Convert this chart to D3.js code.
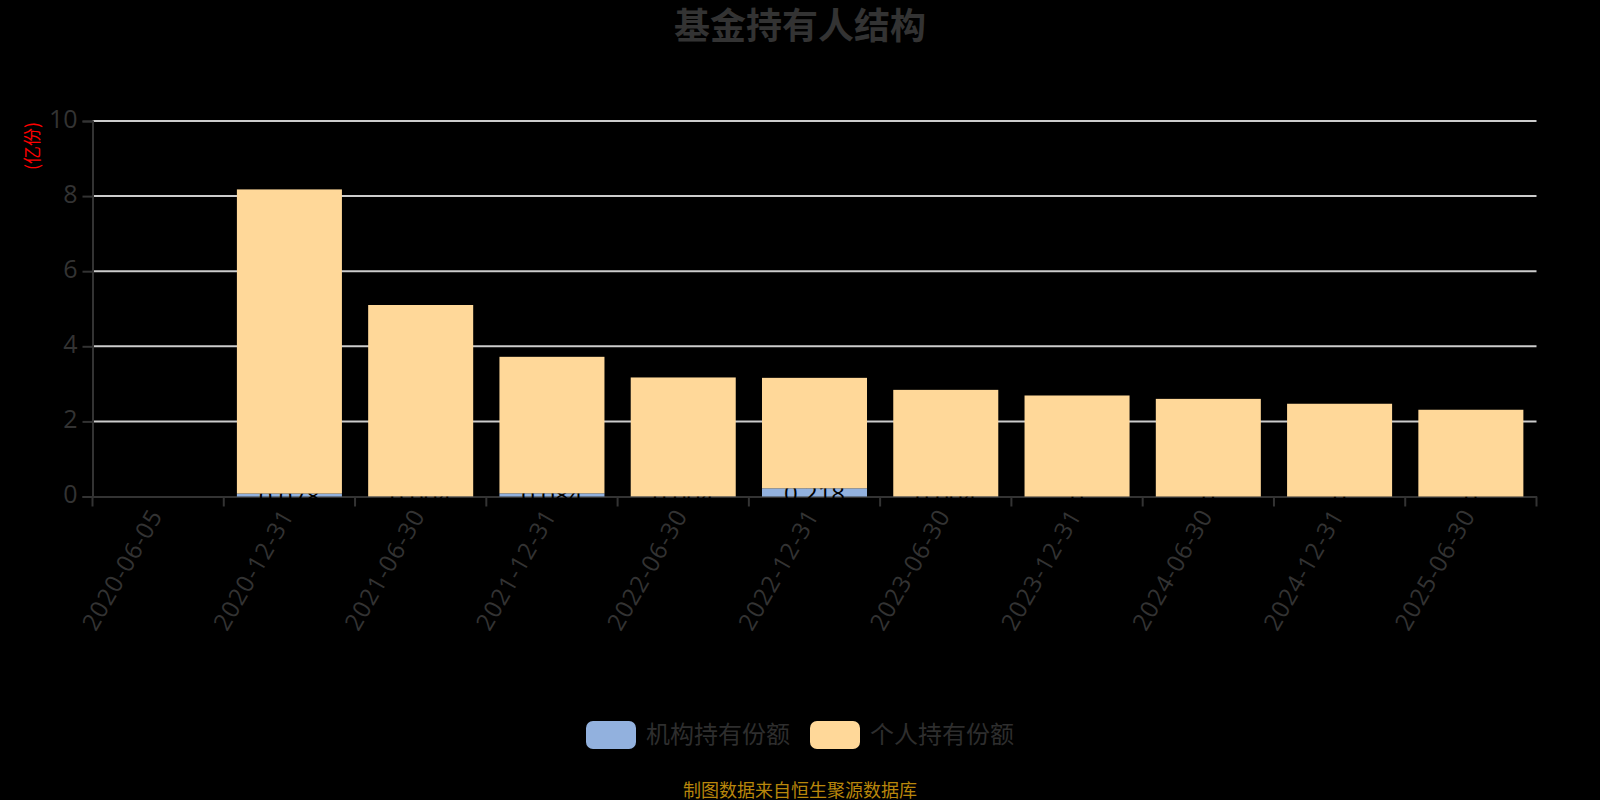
<!DOCTYPE html>
<html>
  <head>
    <meta charset="utf-8">
    <title>基金持有人结构</title>
    <script src="https://cdn.jsdelivr.net/npm/d3@7/dist/d3.min.js"></script>
    <style>
      html, body { margin: 0; background: #000; overflow: hidden; }
      svg { display: block; }
      text { font-family: "Open Sans", "Noto Sans CJK SC", sans-serif; }
      .cjk { font-family: "Noto Sans CJK SC", sans-serif; }
    </style>
  </head>
  <body>
    <svg id="chart" width="1600" height="800"></svg>
    <script>
      const dates = ["2020-06-05", "2020-12-31", "2021-06-30", "2021-12-31", "2022-06-30", "2022-12-31",
        "2023-06-30", "2023-12-31", "2024-06-30", "2024-12-31", "2025-06-30"];
      const institution = [null, 0.078, 0.004, 0.084, 0.004, 0.218, 0.004, 0, 0, 0, 0];
      const personal = [null, 8.10, 5.096, 3.636, 3.166, 2.942, 2.836, 2.69, 2.60, 2.47, 2.31];
      const yTicks = [0, 2, 4, 6, 8, 10];
      const seriesNames = ["机构持有份额", "个人持有份额"];
      const seriesColors = ["#92b1de", "#ffd899"];

      const svg = d3.select("#chart");
      const plotLeft = 92.5, plotRight = 1536.5, plotTop = 121, plotBottom = 496.5;

      const x = d3.scaleBand().domain(dates).range([plotLeft, plotRight]).paddingInner(0.2).paddingOuter(0.1);
      const y = d3.scaleLinear().domain([0, 10]).range([plotBottom, plotTop]);

      // title and the little unit label
      svg.append("text").attr("class", "cjk")
        .attr("x", 800).attr("y", 39)
        .attr("text-anchor", "middle")
        .attr("font-size", 36).attr("font-weight", 700).attr("fill", "#333")
        .text("基金持有人结构");

      svg.append("text").attr("class", "cjk")
        .attr("transform", "translate(31,146) rotate(-90)")
        .attr("text-anchor", "middle").attr("dominant-baseline", "central")
        .attr("font-size", 18).attr("fill", "#f00")
        .text("(亿份)");

      // grid lines
      svg.append("g").selectAll("line")
        .data(yTicks.filter(d => d > 0))
        .join("line")
        .attr("x1", plotLeft).attr("x2", plotRight)
        .attr("y1", d => y(d)).attr("y2", d => y(d))
        .attr("stroke", "#ccc").attr("stroke-width", 2);

      // y axis
      const yAxis = svg.append("g")
        .attr("transform", `translate(${plotLeft},0)`)
        .call(d3.axisLeft(y).tickValues(yTicks).tickSize(10).tickPadding(5));
      yAxis.selectAll("line").attr("stroke", "#333").attr("stroke-width", 2);
      yAxis.select(".domain").attr("stroke", "#333").attr("stroke-width", 2);
      yAxis.selectAll("text").attr("font-size", 25).attr("fill", "#333")
        .attr("dy", "0.24em")
        .style("font-family", '"Open Sans", sans-serif');

      // x axis, labels sit mid band and ticks go on the band edges
      const xAxis = svg.append("g")
        .attr("transform", `translate(0,${plotBottom})`)
        .call(d3.axisBottom(x).tickSize(0).tickSizeOuter(0).tickFormat(""));
      xAxis.select(".domain").attr("stroke", "#333").attr("stroke-width", 2);

      xAxis.selectAll(".edge")
        .data(d3.range(dates.length + 1))
        .join("line")
        .attr("class", "edge")
        .attr("x1", i => plotLeft + i * x.step()).attr("x2", i => plotLeft + i * x.step())
        .attr("y1", 0).attr("y2", 10)
        .attr("stroke", "#333").attr("stroke-width", 2);

      svg.append("g").selectAll("text")
        .data(dates)
        .join("text")
        .attr("transform", d => `translate(${x(d) + x.bandwidth() / 2 - 3},${plotBottom + 14}) rotate(-60)`)
        .attr("text-anchor", "end").attr("dominant-baseline", "central")
        .attr("font-size", 24).attr("letter-spacing", 1).attr("fill", "#333")
        .text(d => d);

      // stacked bars, the labels go between the two series so the top one covers them
      const rows = dates.map((d, i) => ({ date: d, a: institution[i] || 0, b: personal[i] || 0 }));
      const stacked = d3.stack().keys(["a", "b"])(rows);

      svg.append("g").selectAll("rect")
        .data(stacked[0])
        .join("rect")
        .attr("x", d => x(d.data.date)).attr("width", x.bandwidth())
        .attr("y", d => y(d[1])).attr("height", d => y(d[0]) - y(d[1]))
        .attr("fill", seriesColors[0]);

      svg.append("g").selectAll("text")
        .data(institution.map((v, i) => ({ v, date: dates[i] })).filter(d => d.v !== null))
        .join("text")
        .attr("x", d => x(d.date) + x.bandwidth() / 2)
        .attr("y", d => y(d.v / 2))
        .attr("text-anchor", "middle").attr("dominant-baseline", "central")
        .attr("font-size", 24).attr("fill", "#000")
        .text(d => d.v);

      svg.append("g").selectAll("rect")
        .data(stacked[1])
        .join("rect")
        .attr("x", d => x(d.data.date)).attr("width", x.bandwidth())
        .attr("y", d => y(d[1])).attr("height", d => y(d[0]) - y(d[1]))
        .attr("fill", seriesColors[1]);

      // legend
      const legendX = d3.scaleOrdinal().domain(seriesNames).range([586, 810]);
      const legend = svg.append("g").selectAll("g")
        .data(seriesNames)
        .join("g")
        .attr("transform", d => `translate(${legendX(d)},721)`);
      legend.append("rect")
        .attr("width", 50).attr("height", 28).attr("rx", 7)
        .attr("fill", (d, i) => seriesColors[i]);
      legend.append("text").attr("class", "cjk")
        .attr("x", 60).attr("y", 11)
        .attr("dominant-baseline", "central")
        .attr("font-size", 24).attr("fill", "#2e2e2e")
        .text(d => d);

      // source note
      svg.append("text").attr("class", "cjk")
        .attr("x", 800).attr("y", 789)
        .attr("text-anchor", "middle").attr("dominant-baseline", "central")
        .attr("font-size", 18).attr("fill", "#b8860b")
        .text("制图数据来自恒生聚源数据库");
    </script>
  </body>
</html>
